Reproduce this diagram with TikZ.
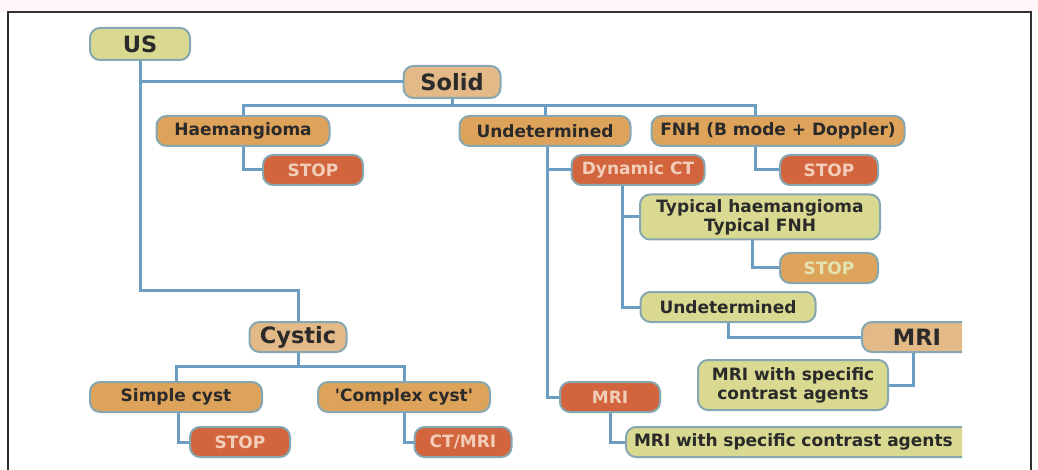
\documentclass[tikz,border=0pt]{standalone}
\usepackage{fontspec}
\setmainfont{DejaVu Sans}
\definecolor{yelfill}{HTML}{D9D991}
\definecolor{tanfill}{HTML}{E2B987}
\definecolor{orfill}{HTML}{DEA35A}
\definecolor{redfill}{HTML}{D2643E}
\definecolor{boxline}{HTML}{86A6B2}
\definecolor{linkblue}{HTML}{6B9DC2}
\definecolor{darktext}{HTML}{2A2A2A}
\definecolor{lighttext}{HTML}{F2CDB8}
\definecolor{framecol}{HTML}{303030}
\tikzset{
  box/.style={draw=boxline, line width=2pt, rounded corners=10pt, inner sep=0pt, align=center,
    text=darktext, font=\bfseries\fontsize{17}{19}\selectfont, minimum height=30pt},
  big/.style={font=\bfseries\fontsize{22.5}{24}\selectfont},
  ybox/.style={box, fill=yelfill},
  tbox/.style={box, fill=tanfill},
  obox/.style={box, fill=orfill},
  rbox/.style={box, fill=redfill, text=lighttext},
  link/.style={draw=linkblue, line width=3pt}
}
\begin{document}
\begin{tikzpicture}[x=1pt,y=-1pt]
    \useasboundingbox (0,0) rectangle (1038,470);
    \fill[red!3] (0,0) rectangle (1038,12);
    \draw[framecol, line width=1.5pt] (8,470) -- (8,12) -- (1031,12) -- (1031,470);
    % top level
    \node[ybox, big, minimum width=100pt, minimum height=32pt] (us) at (140,44) {US};
    \node[tbox, big, minimum width=97pt, minimum height=32pt] (solid) at (452,82) {Solid};
    \node[tbox, big, minimum width=97pt] (cystic) at (298,337) {Cystic};
    % solid branch
    \node[obox, minimum width=173pt] (haem) at (243,131) {Haemangioma};
    \node[obox, minimum width=171pt] (undA) at (545,131) {Undetermined};
    \node[obox, minimum width=253pt] (fnh) at (778,131) {FNH (B mode + Doppler)};
    \node[rbox, minimum width=100pt] (stopA) at (313,170) {STOP};
    \node[rbox, minimum width=133pt] (dynct) at (638,170) {Dynamic CT};
    \node[rbox, minimum width=98pt] (stopB) at (829,170) {STOP};
    \node[ybox, minimum width=240pt, minimum height=45pt] (typ) at (760,217) {Typical haemangioma\\Typical FNH};
    \node[obox, minimum width=98pt, text=yelfill!70!white] (stopC) at (829,268) {STOP};
    \node[ybox, minimum width=175pt] (undB) at (728,307) {Undetermined};
    \node[ybox, minimum width=190pt, minimum height=50pt] (mriwA) at (793,385) {MRI with specific\\contrast agents};
    \node[rbox, minimum width=100pt] (mriB) at (610,397) {MRI};
    \begin{scope}
        \clip (0,0) rectangle (962,470);
        \node[tbox, big, minimum width=110pt] (mriA) at (917,337) {MRI};
        \node[ybox, anchor=west, inner xsep=8pt, text width=334pt, align=left] (mriwB) at (625,442) {MRI with specific contrast agents};
    \end{scope}
    % cystic branch
    \node[obox, minimum width=172pt] (simple) at (176,397) {Simple cyst};
    \node[obox, minimum width=172pt] (complex) at (404,397) {\textquotesingle Complex cyst\textquotesingle};
    \node[rbox, minimum width=100pt] (stopD) at (240,442) {STOP};
    \node[rbox, minimum width=97pt] (ctmri) at (463,442) {CT/MRI};
    % connectors
    \coordinate (sbar) at (0,106);
    \coordinate (cyj) at (0,290);
    \coordinate (cbar) at (0,366);
    \draw[link] (us.south) |- (solid.west);
    \draw[link] (us.south) -- (us.south |- cyj) -| (cystic.north);
    \draw[link] (solid.south) -- (solid.south |- sbar);
    \draw[link] (haem.north) -- (haem.north |- sbar) -- ([xshift=-23pt]fnh.north |- sbar) -- ([xshift=-23pt]fnh.north);
    \draw[link] (undA.north) -- (undA.north |- sbar);
    \draw[link] (haem.south) |- (stopA.west);
    \draw[link] ([xshift=2pt]undA.south) |- (dynct.west);
    \draw[link] ([xshift=2pt]undA.south) |- (mriB.west);
    \draw[link] ([xshift=-23pt]fnh.south) |- (stopB.west);
    \draw[link] ([xshift=-16pt]dynct.south) |- (typ.west);
    \draw[link] ([xshift=-16pt]dynct.south) |- (undB.west);
    \draw[link] ([xshift=-8pt]typ.south) |- (stopC.west);
    \draw[link] (undB.south) |- (mriA.west);
    \draw[link] ([xshift=-4pt]mriA.south) |- (mriwA.east);
    \draw[link] (mriB.south) |- (mriwB.west);
    \draw[link] (cystic.south) -- (cystic.south |- cbar);
    \draw[link] (simple.north) -- (simple.north |- cbar) -- (complex.north |- cbar) -- (complex.north);
    \draw[link] ([xshift=2pt]simple.south) |- (stopD.west);
    \draw[link] (complex.south) |- (ctmri.west);
\end{tikzpicture}
\end{document}
